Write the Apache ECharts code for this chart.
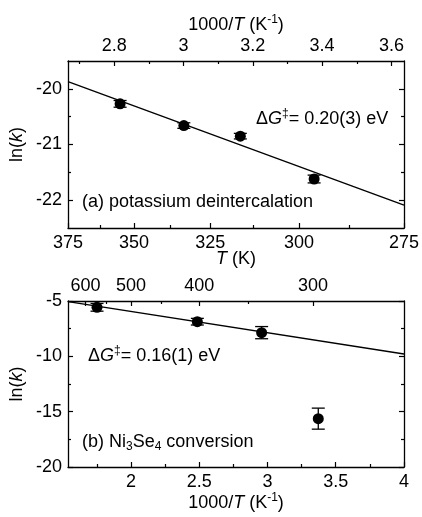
<!DOCTYPE html>
<html><head><meta charset="utf-8">
<script src="https://cdn.jsdelivr.net/npm/echarts@6/dist/echarts.min.js"></script>
<style>html,body{margin:0;padding:0;background:#fff}#c{width:422px;height:517px}</style>
</head><body><div id="c"></div>
<script>
// ---- Panel (a): potassium deintercalation ----
const aInvT = [2.817, 3.001, 3.164, 3.377];
const aLnK = [-20.27, -20.66, -20.85, -21.62];
const aErr = [0.06, 0.05, 0.05, 0.07];
const aFitInvT = [1000 / 375, 1000 / 275];
const aFitLnK = [-19.87, -22.09];
const aInvTLabels = [2.8, 3.0, 3.2, 3.4, 3.6];
const aInvTMinor = [2.7, 2.9, 3.1, 3.3, 3.5];
const aTempLabels = [375, 350, 325, 300, 275];
const aTempMinor = [362.5, 337.5, 312.5, 287.5];
const aYLabels = [-22, -21, -20];
const aYMinor = [-21.5, -20.5];

// ---- Panel (b): Ni3Se4 conversion ----
const bInvT = [1.751, 2.486, 2.957, 3.372];
const bLnK = [-5.57, -6.87, -7.86, -15.63];
const bErr = [0.35, 0.3, 0.55, 0.95];
const bFitInvT = [1000 / 650, 4];
const bFitLnK = [-5.06, -9.79];
const bInvTLabels = [2, 2.5, 3, 3.5, 4];
const bInvTMinor = [1.75, 2.25, 2.75, 3.25, 3.75];
const bTempLabels = [600, 500, 400, 300];
const bTempMinor = [550, 450, 350];
const bYLabels = [-20, -15, -10, -5];
const bYMinor = [-17.5, -12.5, -7.5];

const FONT = 'Liberation Sans';
const BLACK = '#000';
const FS = 18;

const rich = {
  n: {fontSize: FS, fontFamily: FONT, color: BLACK, lineHeight: 22},
  it: {fontSize: FS, fontFamily: FONT, fontStyle: 'italic', color: BLACK, lineHeight: 22},
  sup: {fontSize: 12, fontFamily: FONT, color: BLACK, lineHeight: 13, verticalAlign: 'top'},
  sub: {fontSize: 12, fontFamily: FONT, color: BLACK, lineHeight: 12, verticalAlign: 'bottom'}
};
const grich = {
  n: {fontSize: FS, fontFamily: FONT, fill: BLACK, lineHeight: 22},
  it: {fontSize: FS, fontFamily: FONT, fontStyle: 'italic', fill: BLACK, lineHeight: 22},
  sup: {fontSize: 12, fontFamily: FONT, fill: BLACK, lineHeight: 14, verticalAlign: 'top'},
  sub: {fontSize: 12, fontFamily: FONT, fill: BLACK, lineHeight: 12, verticalAlign: 'bottom'}
};

const invT = t => 1000 / t;
const fmtInv = v => String(Math.round(v * 10) / 10);
const fmtT = v => String(Math.round(1000 / v));
const fmtY = v => String(v);

function axis(o) {
  return {
    type: 'value', gridIndex: o.grid, position: o.pos, min: o.min, max: o.max,
    splitLine: {show: false},
    axisLine: {show: !!o.line, onZero: false, lineStyle: {color: BLACK, width: 1.3}},
    axisTick: {show: true, inside: true, length: o.len, customValues: o.ticks,
      lineStyle: {color: BLACK, width: 1.2}},
    axisLabel: o.labels ? {show: true, customValues: o.labels, formatter: o.fmt, margin: 6,
      color: BLACK, fontSize: FS, fontFamily: FONT} : {show: false},
    name: o.name || '', nameLocation: 'middle', nameGap: o.gap || 0, nameMoveOverlap: false,
    nameTextStyle: {fontSize: FS, fontFamily: FONT, color: BLACK, lineHeight: 22, rich: rich},
    silent: true
  };
}

const aXmin = invT(375), aXmax = invT(275), aYmin = -22.5, aYmax = -19.5;
const bXmin = invT(650), bXmax = 4, bYmin = -20, bYmax = -5;
const MAJ = 5, MIN = 3;

const xAxis = [
  axis({grid: 0, pos: 'top', min: aXmin, max: aXmax, line: true, len: MAJ, ticks: aInvTLabels,
    labels: aInvTLabels, fmt: fmtInv, name: '{n|1000/}{it|T}{n| (K}{sup|-1}{n|)}', gap: 25}),
  axis({grid: 0, pos: 'top', min: aXmin, max: aXmax, len: MIN, ticks: aInvTMinor}),
  axis({grid: 0, pos: 'bottom', min: aXmin, max: aXmax, line: true, len: MAJ,
    ticks: aTempLabels.map(invT), labels: aTempLabels.map(invT), fmt: fmtT,
    name: '{it|T}{n| (K)}', gap: 20}),
  axis({grid: 0, pos: 'bottom', min: aXmin, max: aXmax, len: MIN, ticks: aTempMinor.map(invT)}),
  axis({grid: 1, pos: 'bottom', min: bXmin, max: bXmax, line: true, len: MAJ, ticks: bInvTLabels,
    labels: bInvTLabels, fmt: fmtInv, name: '{n|1000/}{it|T}{n| (K}{sup|-1}{n|)}', gap: 25}),
  axis({grid: 1, pos: 'bottom', min: bXmin, max: bXmax, len: MIN, ticks: bInvTMinor}),
  axis({grid: 1, pos: 'top', min: bXmin, max: bXmax, line: true, len: MAJ,
    ticks: bTempLabels.map(invT), labels: bTempLabels.map(invT), fmt: fmtT}),
  axis({grid: 1, pos: 'top', min: bXmin, max: bXmax, len: MIN, ticks: bTempMinor.map(invT)})
];

const yAxis = [
  axis({grid: 0, pos: 'left', min: aYmin, max: aYmax, line: true, len: MAJ, ticks: aYLabels,
    labels: aYLabels, fmt: fmtY, name: '{n|ln(}{it|k}{n|)}', gap: 40}),
  axis({grid: 0, pos: 'left', min: aYmin, max: aYmax, len: MIN, ticks: aYMinor}),
  axis({grid: 0, pos: 'right', min: aYmin, max: aYmax, line: true, len: MAJ, ticks: aYLabels}),
  axis({grid: 0, pos: 'right', min: aYmin, max: aYmax, len: MIN, ticks: aYMinor}),
  axis({grid: 1, pos: 'left', min: bYmin, max: bYmax, line: true, len: MAJ, ticks: bYLabels,
    labels: bYLabels, fmt: fmtY, name: '{n|ln(}{it|k}{n|)}', gap: 40}),
  axis({grid: 1, pos: 'left', min: bYmin, max: bYmax, len: MIN, ticks: bYMinor}),
  axis({grid: 1, pos: 'right', min: bYmin, max: bYmax, line: true, len: MAJ, ticks: bYLabels}),
  axis({grid: 1, pos: 'right', min: bYmin, max: bYmax, len: MIN, ticks: bYMinor})
];

function errBar(params, api) {
  const x = api.value(0), y = api.value(1), e = api.value(2);
  const t = api.coord([x, y + e]), b = api.coord([x, y - e]);
  const hw = 6.5;
  const st = {stroke: BLACK, lineWidth: 1.3};
  return {type: 'group', children: [
    {type: 'line', shape: {x1: t[0], y1: t[1], x2: b[0], y2: b[1]}, style: st},
    {type: 'line', shape: {x1: t[0] - hw, y1: t[1], x2: t[0] + hw, y2: t[1]}, style: st},
    {type: 'line', shape: {x1: b[0] - hw, y1: b[1], x2: b[0] + hw, y2: b[1]}, style: st}
  ]};
}
const zip = (xs, ys) => xs.map((x, i) => [x, ys[i]]);

function panelSeries(xi, yi, X, Y, E, FX, FY) {
  return [
    {type: 'line', xAxisIndex: xi, yAxisIndex: yi, data: zip(FX, FY), symbol: 'none',
      lineStyle: {color: BLACK, width: 1.3}, silent: true, z: 2},
    {type: 'custom', xAxisIndex: xi, yAxisIndex: yi, data: X.map((x, i) => [x, Y[i], E[i]]),
      renderItem: errBar, encode: {x: 0, y: 1}, silent: true, z: 3},
    {type: 'scatter', xAxisIndex: xi, yAxisIndex: yi, data: zip(X, Y), symbol: 'circle',
      symbolSize: 11, itemStyle: {color: BLACK, opacity: 1}, silent: true, z: 4}
  ];
}

const chart = echarts.init(document.getElementById('c'), null, {renderer: 'canvas'});
chart.setOption({
  animation: false,
  backgroundColor: '#fff',
  grid: [
    {left: 68, top: 61, width: 336, height: 167, outerBoundsMode: 'none', containLabel: false},
    {left: 68, top: 301, width: 336, height: 166, outerBoundsMode: 'none', containLabel: false}
  ],
  xAxis: xAxis,
  yAxis: yAxis,
  series: [
    ...panelSeries(0, 0, aInvT, aLnK, aErr, aFitInvT, aFitLnK),
    ...panelSeries(4, 4, bInvT, bLnK, bErr, bFitInvT, bFitLnK)
  ],
  graphic: [
    {type: 'text', x: 256, y: 119, silent: true, style: {
      text: '{n|Δ}{it|G}{sup|‡}{n|= 0.20(3) eV}', rich: grich, verticalAlign: 'middle',
      fontSize: FS, fontFamily: FONT, fill: BLACK}},
    {type: 'text', x: 82, y: 202, silent: true, style: {
      text: '{n|(a) potassium deintercalation}', rich: grich, verticalAlign: 'middle',
      fontSize: FS, fontFamily: FONT, fill: BLACK}},
    {type: 'text', x: 88, y: 356, silent: true, style: {
      text: '{n|Δ}{it|G}{sup|‡}{n|= 0.16(1) eV}', rich: grich, verticalAlign: 'middle',
      fontSize: FS, fontFamily: FONT, fill: BLACK}},
    {type: 'text', x: 82, y: 442, silent: true, style: {
      text: '{n|(b) Ni}{sub|3}{n|Se}{sub|4}{n| conversion}', rich: grich, verticalAlign: 'middle',
      fontSize: FS, fontFamily: FONT, fill: BLACK}}
  ]
});
</script></body></html>
